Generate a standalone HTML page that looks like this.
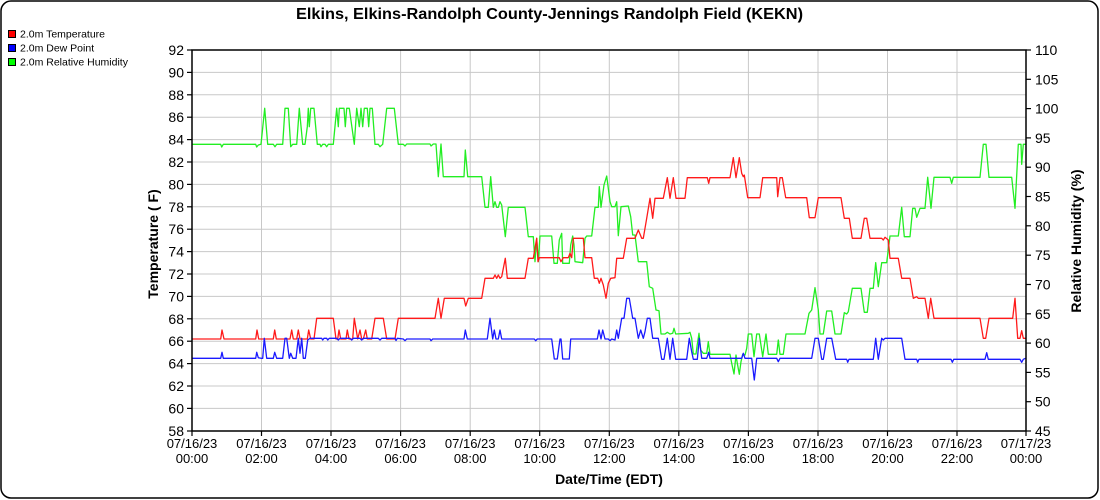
<!DOCTYPE html>
<html><head><meta charset="utf-8"><style>
html,body{margin:0;padding:0;background:#fff;}
svg{display:block;}
text{font-family:"Liberation Sans",Arial,sans-serif;fill:#000;}
</style></head><body>
<svg width="1100" height="500" viewBox="0 0 1100 500" xmlns="http://www.w3.org/2000/svg">
<rect x="1" y="1" width="1097" height="497" rx="10" ry="10" fill="#fff" stroke="#000" stroke-width="1.5"/>
<text x="549.5" y="19" font-size="16" font-weight="bold" text-anchor="middle" textLength="507" lengthAdjust="spacingAndGlyphs">Elkins, Elkins-Randolph County-Jennings Randolph Field (KEKN)</text>
<!-- legend -->
<rect x="8.5" y="30.5" width="7" height="7" fill="#f00" stroke="#000" stroke-width="1"/>
<text x="20" y="37.5" font-size="10.5">2.0m Temperature</text>
<rect x="8.5" y="44.5" width="7" height="7" fill="#00f" stroke="#000" stroke-width="1"/>
<text x="20" y="51.5" font-size="10.5">2.0m Dew Point</text>
<rect x="8.5" y="58.5" width="7" height="7" fill="#0f0" stroke="#000" stroke-width="1"/>
<text x="20" y="65.5" font-size="10.5">2.0m Relative Humidity</text>
<!-- grid -->
<g stroke="#c8c8c8" stroke-width="1">
<line x1="261.5" y1="50" x2="261.5" y2="431"/><line x1="331" y1="50" x2="331" y2="431"/><line x1="400.6" y1="50" x2="400.6" y2="431"/><line x1="470.2" y1="50" x2="470.2" y2="431"/><line x1="539.7" y1="50" x2="539.7" y2="431"/><line x1="609.3" y1="50" x2="609.3" y2="431"/><line x1="678.8" y1="50" x2="678.8" y2="431"/><line x1="748.4" y1="50" x2="748.4" y2="431"/><line x1="818" y1="50" x2="818" y2="431"/><line x1="887.5" y1="50" x2="887.5" y2="431"/><line x1="957" y1="50" x2="957" y2="431"/>
<line x1="192" y1="72.4" x2="1026" y2="72.4"/><line x1="192" y1="94.8" x2="1026" y2="94.8"/><line x1="192" y1="117.2" x2="1026" y2="117.2"/><line x1="192" y1="139.6" x2="1026" y2="139.6"/><line x1="192" y1="162" x2="1026" y2="162"/><line x1="192" y1="184.4" x2="1026" y2="184.4"/><line x1="192" y1="206.8" x2="1026" y2="206.8"/><line x1="192" y1="229.2" x2="1026" y2="229.2"/><line x1="192" y1="251.6" x2="1026" y2="251.6"/><line x1="192" y1="274" x2="1026" y2="274"/><line x1="192" y1="296.4" x2="1026" y2="296.4"/><line x1="192" y1="318.8" x2="1026" y2="318.8"/><line x1="192" y1="341.2" x2="1026" y2="341.2"/><line x1="192" y1="363.6" x2="1026" y2="363.6"/><line x1="192" y1="386" x2="1026" y2="386"/><line x1="192" y1="408.4" x2="1026" y2="408.4"/>
</g>
<!-- series -->
<g fill="none" stroke-width="1.3" stroke-linejoin="round">
<polyline stroke="#22ee22" points="192,144.3 220.7,144.3 221.7,147 223.3,144.3 255.7,144.3 256.7,147 258.3,145 261,144.3 264.7,108.3 267.7,144.3 273.3,144.3 275,146.7 276.7,144.3 282.7,144.3 285,108.3 288.3,108.3 290.7,146.7 292.7,144.3 296.7,144.3 299.3,108.3 302.7,144.3 305,144.3 307.3,126.7 308.3,108.3 309.3,126.7 310.7,108.3 314,108.3 317.3,144.3 320,144.3 321,146.7 322.7,144.3 325,144.3 326.7,146.7 328.3,144.3 333.3,144.3 336.7,108.3 338.3,126.7 339.3,108.3 344,108.3 345.3,126.7 346.7,108.3 349.3,108.3 354.3,144.3 356.7,108.3 359.3,126.7 361,108.3 362.7,126.7 364.3,108.3 367.3,108.3 368.7,126.7 370,108.3 372.3,108.3 375,144.3 378.3,144.3 380,146.7 382.7,144.3 386.7,108.3 394.3,108.3 398.3,144.3 403.3,144.3 405,146 406.7,144 430,144 431,146 433.3,144 436,144 438.3,176.7 441,144 443.3,176.7 464,176.7 465.3,150 467.7,176.7 481.7,176.7 485,207.3 488.3,207.3 490.7,176.7 493.3,207.3 495,201.7 496.7,207.3 498.3,207.3 500,201.7 501.7,205 505.3,236.7 508.3,207.3 525,207.3 528.3,236.7 533.3,236.7 535,261.7 536.7,238.3 538.3,261.7 540,236 551.7,236 554,263.3 557.3,263.3 559.3,240 561.7,233.3 562.7,263.3 569.3,263.3 570.7,245 572.7,236 574,245 575,261.7 582.7,262.7 585,238.3 586.7,236 591.7,236 595,207.3 598.3,207.3 599.3,186.7 601,207.3 604,185 606.7,176 610,201.7 611.7,206.7 615,206.7 616.7,201.7 618.3,235.7 621,206.7 628.3,206 630.7,216.7 632.7,235 635,235 638.3,261.7 646.7,261.7 649.3,286.7 652.7,288.3 656,310 659,310.7 661,334 665,334 667.3,332.3 670,334 672.7,333.3 674,328.3 675.7,334 688.3,333.3 690,332.3 691.7,338.3 693.3,354 696,354 697.3,344.3 699,333.3 700.7,350 703.3,353.3 706.7,353.3 708.3,341.7 710,354.3 730,354.3 731.7,363.3 734,374 736,355 737.3,363.3 739.3,374.3 741,361.7 742.7,354.3 745,355 746.7,348.3 748.3,334 751.7,334 754,356.7 756.7,334 759.3,334 762.7,356.7 766,334 768.3,354.3 776.7,354.3 778.3,340 780,354.3 783.3,354.3 786,334 805,334 809,313.3 811.7,310 815,287.7 818.3,310 820,334 823.3,334 826.7,311 831.7,311 835,334 841,334 844.3,312.7 846.7,314 848.3,311.7 852.3,288.3 861,288.3 864.3,312.3 867.3,312.3 870,288.3 873.3,288.3 875.7,262.7 878.3,286.7 881.7,262.7 886.7,262.7 890,236 898.3,236 901.7,207.3 904.3,236.7 910,236.7 912.7,208.3 915,208.3 916.7,217.3 920,208.3 925,208.3 927.7,177.3 931,208.3 934,177.3 950,177.3 951.7,183.3 953.3,177.3 980,177.3 983.3,144.3 986,144.3 989,177.3 1011.7,177.3 1015,208.3 1018.3,144.3 1021,144.3 1021.7,164.3 1023.3,144.3 1025.5,144.3"/>
<polyline stroke="#ff1a1a" points="192,339 220.7,339 222,330 224,339 255.7,339 257,330 258.7,339 273.3,339 274.7,330 276.3,339 290,339 291.7,330 293.3,339 296.7,339 298.3,330 300,339 307.3,339 308.7,330 310.7,339 314,339 316.7,318.3 333.3,318.3 336,339 337.7,339 339,330 340.7,339 346,339 347.3,330 349,339 352.7,339 354.3,318.3 357.7,339 360,330 361.7,339 363.3,339 365.7,330 367.3,339 371.7,339 375,318.3 383.3,318.3 386.7,339 395,339 398.3,318.3 405,318.3 435,318.3 438.3,298.3 441,318.3 444.3,298.3 464,298.3 465.7,306 468.3,298.3 481.7,298.3 485,278.3 493.3,278.3 495,275 496.7,278.3 498.3,275 500,278.3 501.7,276.7 505.3,258.3 507.3,278.3 525,278.3 528.3,258.3 533.3,258.3 535,248.3 536.7,238.3 538,261.7 539.3,257.7 559.3,257.7 561,261.7 563.3,257.7 568.3,257.7 570,253.3 571.7,257.7 573.3,238.3 583.3,238.3 585,257.7 591.7,257.7 594.3,278.3 597.7,278.3 599.3,283.3 601,278.3 603.3,285 606,298.3 608.3,283.3 610.7,278.3 615,277.7 616.7,258.3 623.3,258.3 626.7,238.3 635,238.3 638.3,230 641.7,238.3 643.3,238.3 646.7,218.3 650,198.3 652.7,218.3 655,198.3 663.3,198.3 667.3,177.7 670,198.3 673.3,177.7 676,198.3 685,198.3 687.3,177.7 707.3,177.7 708.7,183.3 710,177.7 730,177.7 733.3,157.7 736,177.7 739.3,157.7 741.7,173.3 743.3,176.7 744.3,175 747.7,197.7 760,197.7 762.7,177.7 776.7,177.7 777.7,196.7 780,177.7 782.3,177.7 785.7,197.7 806.7,197.7 809.3,217.7 815,217.7 818.3,197.7 841,197.7 844.3,218.3 849.3,218.3 852.3,238.3 861,238.3 864.3,218.3 866.7,218.3 870,238.3 881.7,238.3 883.3,240 885,237.3 888.3,240 890,258.3 898.3,258.3 901.7,278.3 910,278.3 913.3,298.3 916.7,296.7 918.3,298.3 925,298.3 928.3,318.3 930.7,298.3 934,318.3 980,318.3 983.3,338.3 985.7,338.3 989,318.3 1012.7,318.3 1015,298.3 1017.7,338.3 1020,338.3 1021.7,330.7 1023.3,338.3 1026,338.3"/>
<polyline stroke="#1a1aff" points="192,358.3 220.7,358.3 222,352.3 223.3,358.3 255.7,358.3 256.7,352.3 258.3,357.7 261,358.3 262.7,358.3 264.3,338.3 266.7,358.3 273.3,358.3 274.7,352.3 276.7,358.3 282.7,358.3 285,338.3 286.7,338.3 289.3,358.3 290.7,353.3 292.7,358.3 296,358.3 298.3,338.3 300,353.3 301.7,338.3 303.3,358.3 305.3,358.3 307.7,340 310,338.3 321.7,338.3 322.7,340 324,338.3 326.7,338.3 327.7,340 329.3,338.3 336.7,338.3 338.3,340 340,338.3 350,338.3 351.7,340 353.3,338.3 360,338.3 361.7,340 363.3,338.3 378.3,338.3 380,340 381.7,338.3 395,338.3 396,340.5 397.3,338.3 403.3,339 405,340.7 406.7,339 430,339 431,340.7 432.7,339 464,339 465.3,330 467.3,339 487.3,339 490,318.3 492.7,339 494.3,330 496,339 498.3,339 500,330 501.7,339 534.3,339 535.7,340.7 537.3,339 551.7,339 554.3,359 557.3,359 560,339 561,339 562.7,359 569.3,359 570.7,339 597.3,339 599,330 601,339 602.7,330 605,339 608.3,339 610,340.7 611.7,339 615,340 616.7,330 618.3,338.3 621.7,318.3 624,318.3 626.7,298.3 629.3,298.3 632.7,318.3 635,318.3 638.3,338.3 640.7,330 643.3,338.3 645,331.7 647.3,318.3 650,318.3 652.7,338.3 658.3,338.3 661.7,359.3 664,359.3 667.3,338.3 670,359.3 672.7,338.3 675.7,359.3 686.7,359.3 689.3,338.3 691.7,351.7 693.3,359.3 697.3,359.3 699.3,338.3 701.7,358.3 706.7,358.3 708.7,352.3 710,358.3 741.7,358.3 743.3,353.3 745,358.3 751.7,358.3 754.3,380 756.7,358.3 776.7,358.3 778.3,361.7 780,358.3 811.7,358.3 815,338.3 818.3,338.3 821.7,359.3 823.3,359.3 826.7,338.3 831.7,338.3 835.7,359.3 846.7,359.3 847.7,362.3 849,359.3 873.3,359.3 875.7,338.3 878.3,359.3 881.7,338.3 883.3,340 885,338.3 901.7,338.3 905,359.3 916.7,359.3 917.7,362.3 919,359.3 951,359.3 952.3,362.3 953.7,359.3 985,359.3 986.7,352.7 988.3,359.3 1020,359.3 1021.7,362.3 1023.3,359.3 1025.5,358.3"/>
</g>
<!-- axis frame -->
<rect x="192" y="50" width="834" height="381" fill="none" stroke="#000" stroke-width="1.5"/>
<!-- ticks -->
<g stroke="#000" stroke-width="1.2">
<line x1="187" y1="50" x2="192" y2="50"/><line x1="187" y1="72.4" x2="192" y2="72.4"/><line x1="187" y1="94.8" x2="192" y2="94.8"/><line x1="187" y1="117.2" x2="192" y2="117.2"/><line x1="187" y1="139.6" x2="192" y2="139.6"/><line x1="187" y1="162" x2="192" y2="162"/><line x1="187" y1="184.4" x2="192" y2="184.4"/><line x1="187" y1="206.8" x2="192" y2="206.8"/><line x1="187" y1="229.2" x2="192" y2="229.2"/><line x1="187" y1="251.6" x2="192" y2="251.6"/><line x1="187" y1="274" x2="192" y2="274"/><line x1="187" y1="296.4" x2="192" y2="296.4"/><line x1="187" y1="318.8" x2="192" y2="318.8"/><line x1="187" y1="341.2" x2="192" y2="341.2"/><line x1="187" y1="363.6" x2="192" y2="363.6"/><line x1="187" y1="386" x2="192" y2="386"/><line x1="187" y1="408.4" x2="192" y2="408.4"/><line x1="187" y1="431" x2="192" y2="431"/>
<line x1="1026" y1="50" x2="1031" y2="50"/><line x1="1026" y1="79.3" x2="1031" y2="79.3"/><line x1="1026" y1="108.6" x2="1031" y2="108.6"/><line x1="1026" y1="137.9" x2="1031" y2="137.9"/><line x1="1026" y1="167.2" x2="1031" y2="167.2"/><line x1="1026" y1="196.5" x2="1031" y2="196.5"/><line x1="1026" y1="225.8" x2="1031" y2="225.8"/><line x1="1026" y1="255.2" x2="1031" y2="255.2"/><line x1="1026" y1="284.5" x2="1031" y2="284.5"/><line x1="1026" y1="313.8" x2="1031" y2="313.8"/><line x1="1026" y1="343.1" x2="1031" y2="343.1"/><line x1="1026" y1="372.4" x2="1031" y2="372.4"/><line x1="1026" y1="401.7" x2="1031" y2="401.7"/><line x1="1026" y1="431" x2="1031" y2="431"/>
<line x1="192" y1="431" x2="192" y2="436"/><line x1="261.5" y1="431" x2="261.5" y2="436"/><line x1="331" y1="431" x2="331" y2="436"/><line x1="400.6" y1="431" x2="400.6" y2="436"/><line x1="470.2" y1="431" x2="470.2" y2="436"/><line x1="539.7" y1="431" x2="539.7" y2="436"/><line x1="609.3" y1="431" x2="609.3" y2="436"/><line x1="678.8" y1="431" x2="678.8" y2="436"/><line x1="748.4" y1="431" x2="748.4" y2="436"/><line x1="818" y1="431" x2="818" y2="436"/><line x1="887.5" y1="431" x2="887.5" y2="436"/><line x1="957" y1="431" x2="957" y2="436"/><line x1="1026" y1="431" x2="1026" y2="436"/>
</g>
<g font-size="14" text-anchor="end">
<text x="184" y="55">92</text><text x="184" y="77.4">90</text><text x="184" y="99.8">88</text><text x="184" y="122.2">86</text><text x="184" y="144.6">84</text><text x="184" y="167">82</text><text x="184" y="189.4">80</text><text x="184" y="211.8">78</text><text x="184" y="234.2">76</text><text x="184" y="256.6">74</text><text x="184" y="279">72</text><text x="184" y="301.4">70</text><text x="184" y="323.8">68</text><text x="184" y="346.2">66</text><text x="184" y="368.6">64</text><text x="184" y="391">62</text><text x="184" y="413.4">60</text><text x="184" y="436">58</text>
</g>
<g font-size="14" text-anchor="start">
<text x="1035" y="55">110</text><text x="1035" y="84.3">105</text><text x="1035" y="113.6">100</text><text x="1035" y="142.9">95</text><text x="1035" y="172.2">90</text><text x="1035" y="201.5">85</text><text x="1035" y="230.8">80</text><text x="1035" y="260.2">75</text><text x="1035" y="289.5">70</text><text x="1035" y="318.8">65</text><text x="1035" y="348.1">60</text><text x="1035" y="377.4">55</text><text x="1035" y="406.7">50</text><text x="1035" y="436">45</text>
</g>
<g font-size="13" text-anchor="middle">
<text x="192" y="448">07/16/23</text><text x="192" y="463">00:00</text>
<text x="261.5" y="448">07/16/23</text><text x="261.5" y="463">02:00</text>
<text x="331" y="448">07/16/23</text><text x="331" y="463">04:00</text>
<text x="400.6" y="448">07/16/23</text><text x="400.6" y="463">06:00</text>
<text x="470.2" y="448">07/16/23</text><text x="470.2" y="463">08:00</text>
<text x="539.7" y="448">07/16/23</text><text x="539.7" y="463">10:00</text>
<text x="609.3" y="448">07/16/23</text><text x="609.3" y="463">12:00</text>
<text x="678.8" y="448">07/16/23</text><text x="678.8" y="463">14:00</text>
<text x="748.4" y="448">07/16/23</text><text x="748.4" y="463">16:00</text>
<text x="818" y="448">07/16/23</text><text x="818" y="463">18:00</text>
<text x="887.5" y="448">07/16/23</text><text x="887.5" y="463">20:00</text>
<text x="957" y="448">07/16/23</text><text x="957" y="463">22:00</text>
<text x="1026" y="448">07/17/23</text><text x="1026" y="463">00:00</text>
</g>
<text x="609" y="484" font-size="14" font-weight="bold" text-anchor="middle">Date/Time (EDT)</text>
<text transform="translate(158,244) rotate(-90)" font-size="14" font-weight="bold" text-anchor="middle">Temperature ( F)</text>
<text transform="translate(1081,241) rotate(-90)" font-size="14" font-weight="bold" text-anchor="middle">Relative Humidity (%)</text>
</svg>
</body></html>
